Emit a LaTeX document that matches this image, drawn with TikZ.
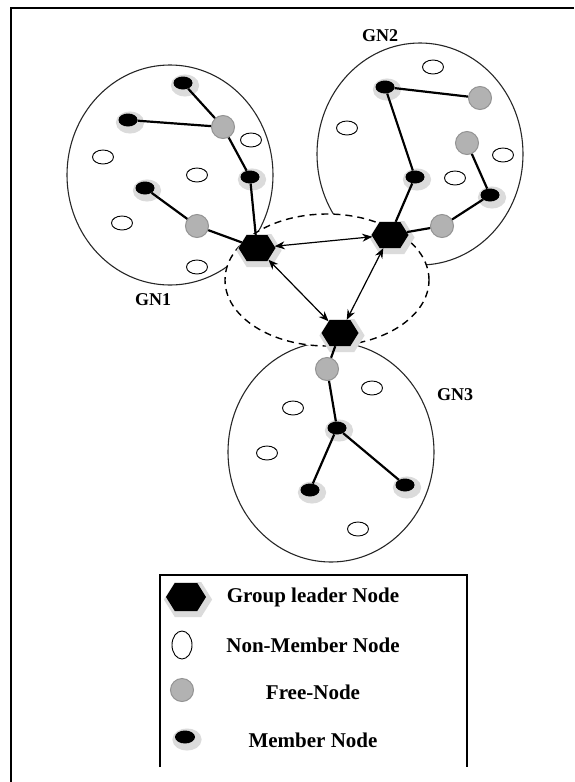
\documentclass[tikz,border=0pt]{standalone}
\usepackage{fontspec}
\setmainfont{Liberation Serif}
\usetikzlibrary{shapes.geometric,shapes.symbols,arrows.meta}

\begin{document}
\begin{tikzpicture}[x=1pt,y=-1pt,
  grp/.style={draw=black!85, line width=1.1pt},
  halo/.style={preaction={draw=gray!28, line width=#1, transform canvas={xshift=2pt,yshift=-2.5pt}}},
  member/.style={ellipse, fill=black, minimum width=19pt, minimum height=13pt, inner sep=0pt, halo=9pt},
  free/.style={circle, fill=gray!60, draw=gray!85, line width=1pt, minimum size=23pt, inner sep=0pt},
  nonmem/.style={ellipse, draw=black, fill=white, line width=0.9pt, minimum width=21pt, minimum height=14pt, inner sep=0pt},
  leader/.style={signal, signal to=east and west, signal pointer angle=116, fill=black,
     minimum width=37pt, minimum height=26pt, inner sep=0pt, halo=7pt},
  link/.style={line width=2.2pt},
  peer/.style={<->, >={Stealth[length=10pt,width=8pt]}, line width=1.2pt},
  lbl/.style={font=\fontsize{18}{20}\selectfont\bfseries},
  legtxt/.style={font=\fontsize{21}{24}\selectfont\bfseries}
]
\useasboundingbox (0,0) rectangle (574,782);

% outer frame
\draw[line width=1.8pt] (11,782) -- (11,8) -- (574,8);

% group regions
\draw[grp] (170,175) ellipse [x radius=103pt, y radius=110pt];
\draw[grp] (420,154) ellipse [x radius=103pt, y radius=111pt];
\draw[grp] (331,452) ellipse [x radius=103pt, y radius=110pt];
% leader ring
\draw[line width=1.4pt, dash pattern=on 7pt off 5pt, fill=white] (327,280) ellipse [x radius=102pt, y radius=66pt];

% leaders
\node[leader] (h1) at (257,248) {};
\node[leader] (h2) at (390,235) {};
\node[leader] (h3) at (340,333) {};

% GN1
\node[member] (m1) at (183,83) {};
\node[member] (m2) at (128,120) {};
\node[member] (m3) at (250,177) {};
\node[member] (m4) at (145,188) {};
\node[free] (f1) at (223,127) {};
\node[free] (f2) at (197,226) {};
\node[nonmem] (n1) at (251,140) {};
\node[nonmem] (n2) at (103,157) {};
\node[nonmem] (n3) at (197,175) {};
\node[nonmem] (n4) at (122,223) {};
\node[nonmem] (n5) at (197,267) {};

% GN2
\node[member] (m5) at (385,87) {};
\node[member] (m6) at (415,177) {};
\node[member] (m7) at (490,195) {};
\node[free] (f3) at (480,98) {};
\node[free] (f4) at (467,143) {};
\node[free] (f5) at (442,226) {};
\node[nonmem] (n6) at (433,67) {};
\node[nonmem] (n7) at (347,128) {};
\node[nonmem] (n8) at (503,155) {};
\node[nonmem] (n9) at (455,178) {};

% GN3
\node[free] (f6) at (327,369) {};
\node[member] (m8) at (337,428) {};
\node[member] (m9) at (310,490) {};
\node[member] (m10) at (405,485) {};
\node[nonmem] (n10) at (372,388) {};
\node[nonmem] (n11) at (293,408) {};
\node[nonmem] (n12) at (267,453) {};
\node[nonmem] (n13) at (358,529) {};

% member links
\draw[link] (m1) -- (f1);
\draw[link] (m2) -- (f1);
\draw[link] (f1) -- (m3);
\draw[link] (m3) -- (h1);
\draw[link] (m4) -- (f2);
\draw[link] (f2) -- (h1);
\draw[link] (m5) -- (f3);
\draw[link] (m5) -- (m6);
\draw[link] (m6) -- (h2);
\draw[link] (f4) -- (m7);
\draw[link] (m7) -- (f5);
\draw[link] (f5) -- (h2);
\draw[link] (h3) -- (f6);
\draw[link] (f6) -- (m8);
\draw[link] (m8) -- (m9);
\draw[link] (m8) -- (m10);

% leader-to-leader links
\draw[peer] (h1) -- (h2);
\draw[peer] (h1) -- (h3);
\draw[peer] (h2) -- (h3);

% group names
\node[lbl] (t1) at (153,300) {GN1};
\node[lbl] (t2) at (380,36) {GN2};
\node[lbl] (t3) at (455,395) {GN3};

% legend
\draw[line width=1.4pt] (160,767) -- (160,575) -- (467,575) -- (467,767);
\node[leader, minimum width=40pt, minimum height=28pt] (k1) at (186,597) {};
\node[nonmem, minimum width=20pt, minimum height=28pt] (k2) at (182,645) {};
\node[free] (k3) at (182,690) {};
\node[member, minimum width=20pt, minimum height=13pt] (k4) at (185,737) {};
\node[legtxt] (d1) at (313,597) {Group leader Node};
\node[legtxt] (d2) at (313,645) {Non-Member Node};
\node[legtxt] (d3) at (313,692) {Free-Node};
\node[legtxt] (d4) at (313,740) {Member Node};
\end{tikzpicture}
\end{document}
